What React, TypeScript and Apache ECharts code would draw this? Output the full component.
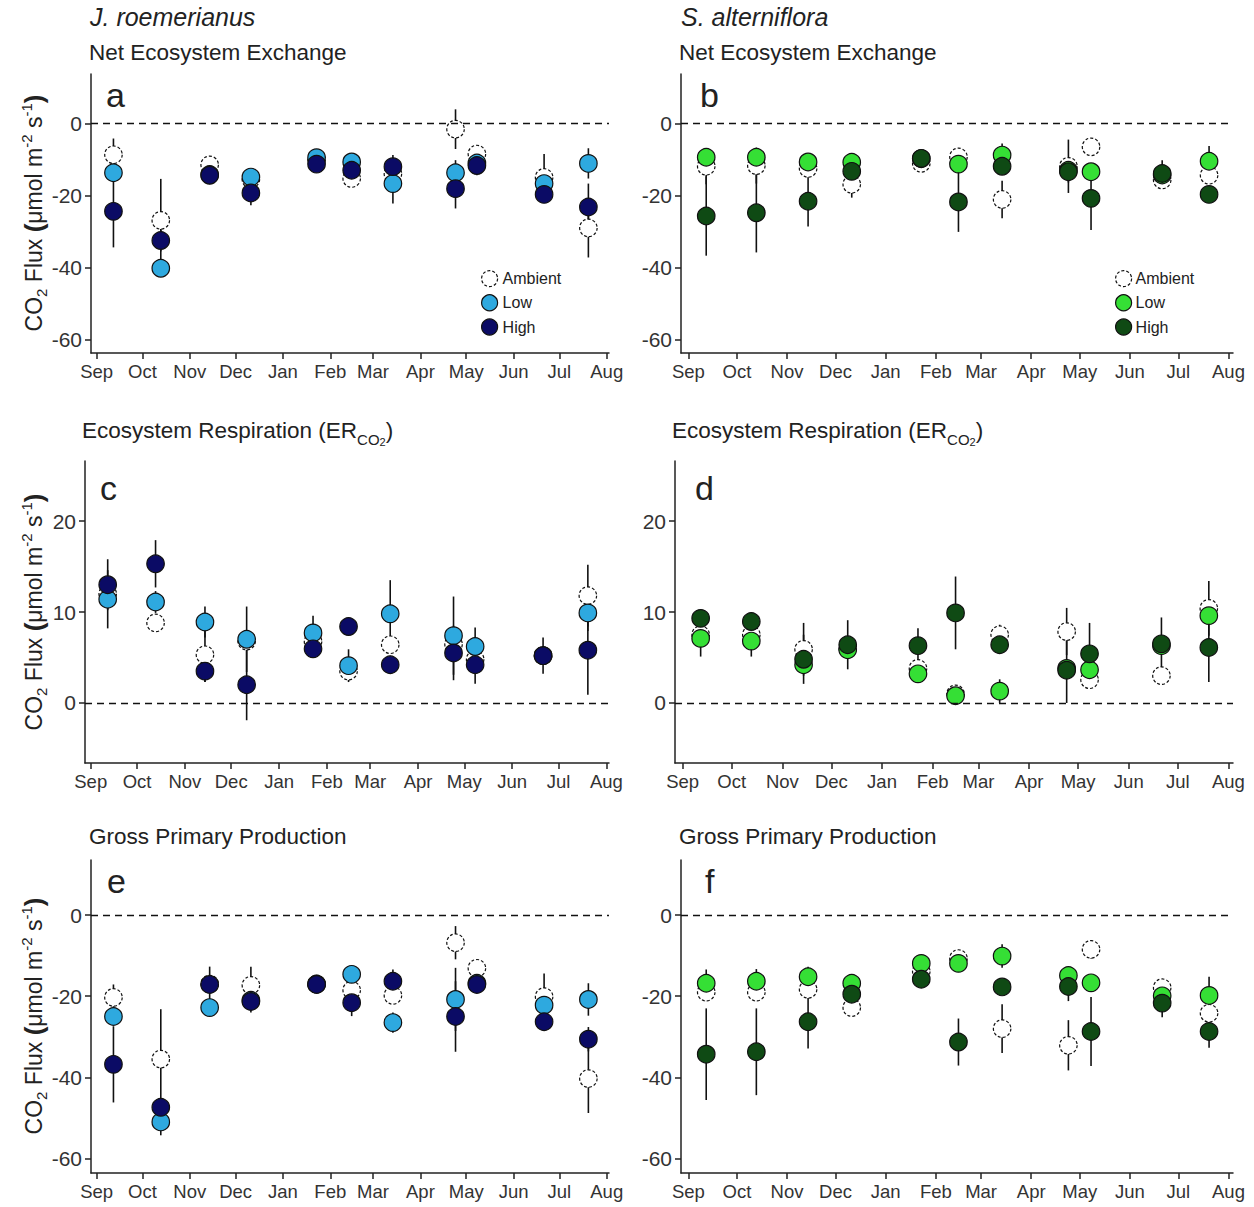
import React, { useEffect, useRef } from "react";
import * as echarts from "echarts";

// ---------- data ----------
const sampleDates = [
  "2013-09-12", "2013-10-13", "2013-11-14", "2013-12-11", "2014-01-23", "2014-02-15",
  "2014-03-14", "2014-04-24", "2014-05-08", "2014-06-21", "2014-07-20",
];
const monthStarts = [
  "2013-09-01", "2013-10-01", "2013-11-01", "2013-12-01", "2014-01-01", "2014-02-01",
  "2014-03-01", "2014-04-01", "2014-05-01", "2014-06-01", "2014-07-01", "2014-08-01",
];
const monthLabels = ["Sep", "Oct", "Nov", "Dec", "Jan", "Feb", "Mar", "Apr", "May", "Jun", "Jul", "Aug"];
const fluxTicks = [-60, -40, -20, 0];
const erTicks = [0, 10, 20];
const treatments = ["Ambient", "Low", "High"];

// (a) NEE, J. roemerianus
const aAmb = [-8.7, -26.9, -11.5, -15.5, -10.0, -15.3, -14.0, -1.6, -8.5, -15.0, -29.0];
const aAmbSE = [4.5, 11.5, 1.5, 1.5, 1.0, 1.5, 1.0, 5.5, 1.0, 6.5, 8.2];
const aLow = [-13.7, -40.2, -14.2, -14.9, -9.5, -10.7, -16.7, -13.7, -11.0, -16.7, -11.1];
const aLowSE = [1.5, 1.5, 2.0, 1.5, 1.0, 1.0, 5.5, 3.5, 1.0, 1.5, 4.2];
const aHigh = [-24.4, -32.5, -14.4, -19.3, -11.3, -13.0, -12.0, -18.1, -11.7, -19.7, -23.2];
const aHighSE = [10.0, 3.0, 2.5, 3.4, 1.0, 1.5, 3.2, 5.5, 2.7, 2.0, 6.5];

// (b) NEE, S. alterniflora
const bAmb = [-11.9, -11.7, -12.5, -16.9, -11.1, -9.3, -21.1, -11.9, -6.5, -15.7, -14.4];
const bAmbSE = [5.0, 5.0, 2.0, 3.7, 1.0, 1.0, 5.2, 7.4, 2.1, 1.5, 2.0];
const bLow = [-9.4, -9.4, -10.7, -10.8, -9.8, -11.3, -8.8, -13.0, -13.4, -14.3, -10.5];
const bLowSE = [1.5, 1.5, 2.0, 1.5, 1.0, 1.5, 3.2, 1.5, 2.0, 1.5, 4.2];
const bHigh = [-25.7, -24.8, -21.6, -13.3, -9.7, -21.8, -11.9, -13.4, -20.8, -13.9, -19.7];
const bHighSE = [11.0, 11.0, 7.0, 2.0, 1.5, 8.3, 2.0, 3.0, 8.8, 3.7, 1.5];

// (c) ER, J. roemerianus
const cAmb = [12.0, 8.8, 5.3, 6.8, 6.75, 3.5, 6.4, 6.45, 4.8, 5.2, 11.8];
const cAmbSE = [1.0, 0.7, 3.0, 1.0, 1.0, 1.0, 0.9, 1.0, 1.0, 1.0, 3.4];
const cLow = [11.4, 11.1, 8.9, 7.0, 7.7, 4.1, 9.8, 7.4, 6.2, 5.2, 9.9];
const cLowSE = [3.2, 1.2, 1.7, 3.6, 1.9, 1.8, 3.7, 4.3, 2.1, 1.0, 2.0];
const cHigh = [13.0, 15.3, 3.5, 2.0, 5.95, 8.4, 4.2, 5.5, 4.2, 5.2, 5.8];
const cHighSE = [2.8, 2.6, 1.2, 3.9, 1.0, 1.0, 1.0, 3.0, 2.1, 2.0, 4.9];

// (d) ER, S. alterniflora
const dAmb = [7.5, 7.5, 5.9, 6.0, 3.8, 1.0, 7.5, 7.85, 2.55, 3.0, 10.4];
const dAmbSE = [1.0, 0.8, 2.9, 1.0, 0.6, 0.5, 1.1, 2.6, 0.9, 0.8, 3.0];
const dLow = [7.1, 6.8, 4.2, 5.85, 3.2, 0.8, 1.3, 3.8, 3.65, 6.3, 9.6];
const dLowSE = [2.0, 1.7, 1.0, 1.0, 0.8, 0.8, 1.3, 1.0, 1.0, 1.0, 1.0];
const dHigh = [9.3, 8.95, 4.8, 6.4, 6.3, 9.9, 6.4, 3.6, 5.4, 6.5, 6.1];
const dHighSE = [1.0, 1.0, 2.7, 2.7, 1.9, 4.0, 1.0, 3.6, 3.4, 2.9, 3.8];

// (e) GPP, J. roemerianus
const eAmb = [-20.3, -35.5, -17.0, -17.3, -17.0, -18.5, -19.8, -6.8, -13.1, -20.1, -40.3];
const eAmbSE = [3.2, 12.3, 1.0, 4.6, 1.0, 1.0, 0.5, 4.1, 1.8, 5.7, 8.5];
const eLow = [-25.0, -51.0, -22.8, -21.0, -17.0, -14.6, -26.5, -20.8, -16.8, -22.2, -20.8];
const eLowSE = [2.0, 3.3, 1.0, 1.0, 1.0, 2.0, 2.5, 7.8, 1.0, 1.5, 4.0];
const eHigh = [-36.8, -47.4, -17.1, -21.3, -17.1, -21.6, -16.3, -25.0, -17.1, -26.3, -30.6];
const eHighSE = [9.4, 2.0, 4.4, 2.7, 1.0, 3.3, 2.9, 8.7, 1.5, 1.5, 3.0];

// (f) GPP, S. alterniflora
const fAmb = [-19.0, -19.0, -18.3, -22.8, -13.9, -10.7, -28.0, -32.1, -8.45, -17.9, -24.2];
const fAmbSE = [2.2, 2.2, 2.0, 1.7, 1.0, 1.0, 6.0, 6.2, 2.3, 1.5, 2.0];
const fLow = [-16.8, -16.3, -15.2, -16.8, -11.9, -11.9, -10.1, -14.9, -16.7, -19.9, -19.8];
const fLowSE = [3.4, 3.0, 2.5, 1.5, 1.0, 1.0, 2.9, 1.5, 1.5, 1.5, 4.6];
const fHigh = [-34.3, -33.7, -26.3, -19.5, -15.8, -31.3, -17.7, -17.6, -28.7, -21.7, -28.7];
const fHighSE = [11.3, 10.7, 6.6, 2.0, 1.5, 5.8, 1.5, 3.6, 8.5, 3.5, 4.0];

// ---------- styling ----------
const FONT = '"Liberation Sans", Arial, Helvetica, sans-serif';
const INK = "#222222";
const bluePal = ["#ffffff", "#2ea9df", "#0b0b65"];
const greenPal = ["#ffffff", "#35df35", "#0f4a14"];

const origin = Date.UTC(2013, 8, 1);
const toDay = (s: string) => {
  const [y, m, d] = s.split("-").map(Number);
  return Math.round((Date.UTC(y, m - 1, d) - origin) / 86400000);
};
const days = sampleDates.map(toDay);
const monthDays = monthStarts.map(toDay);

type Panel = {
  grid: { left: number; top: number; width: number; height: number };
  x: [number, number];
  y: [number, number];
  ticks: number[];
  vals: number[][];
  ses: number[][];
  pal: string[];
};

const panels: Panel[] = [
  { grid: { left: 91, top: 74, width: 518, height: 279 }, x: [-3.7, 335.5], y: [-63.7, 13.7], ticks: fluxTicks, vals: [aAmb, aLow, aHigh], ses: [aAmbSE, aLowSE, aHighSE], pal: bluePal },
  { grid: { left: 681, top: 74, width: 552, height: 279 }, x: [-4.6, 336.8], y: [-63.7, 13.7], ticks: fluxTicks, vals: [bAmb, bLow, bHigh], ses: [bAmbSE, bLowSE, bHighSE], pal: greenPal },
  { grid: { left: 85, top: 461, width: 524, height: 302 }, x: [-3.7, 335.7], y: [-6.6, 26.6], ticks: erTicks, vals: [cAmb, cLow, cHigh], ses: [cAmbSE, cLowSE, cHighSE], pal: bluePal },
  { grid: { left: 675, top: 461, width: 558, height: 302 }, x: [-4.7, 336.8], y: [-6.6, 26.6], ticks: erTicks, vals: [dAmb, dLow, dHigh], ses: [dAmbSE, dLowSE, dHighSE], pal: greenPal },
  { grid: { left: 91, top: 860, width: 518, height: 313 }, x: [-3.7, 335.5], y: [-63.6, 13.6], ticks: fluxTicks, vals: [eAmb, eLow, eHigh], ses: [eAmbSE, eLowSE, eHighSE], pal: bluePal },
  { grid: { left: 681, top: 860, width: 552, height: 313 }, x: [-4.6, 336.8], y: [-63.6, 13.6], ticks: fluxTicks, vals: [fAmb, fLow, fHigh], ses: [fAmbSE, fLowSE, fHighSE], pal: greenPal },
];

const markerStyle = (fill: string, dashed: boolean) => ({
  color: fill,
  borderColor: "#111",
  borderWidth: 1.2,
  borderType: dashed ? [3, 2] : "solid",
  opacity: 1,
});

function buildOption() {
  const grid: any[] = [];
  const xAxis: any[] = [];
  const yAxis: any[] = [];
  const series: any[] = [];

  panels.forEach((p, i) => {
    grid.push({ ...p.grid, containLabel: false });
    xAxis.push({
      type: "value",
      gridIndex: i,
      min: p.x[0],
      max: p.x[1],
      axisLine: { show: true, onZero: false, lineStyle: { color: INK, width: 1.5 } },
      axisTick: { show: true, customValues: monthDays, length: 6, lineStyle: { color: INK, width: 1.5 } },
      axisLabel: {
        customValues: monthDays,
        formatter: (v: number) => monthLabels[monthDays.indexOf(Math.round(v))] ?? "",
        fontSize: 18.5,
        color: "#333",
        fontFamily: FONT,
        margin: 9,
      },
      splitLine: { show: false },
    });
    yAxis.push({
      type: "value",
      gridIndex: i,
      min: p.y[0],
      max: p.y[1],
      axisLine: { show: true, onZero: false, lineStyle: { color: INK, width: 1.5 } },
      axisTick: { show: true, customValues: p.ticks, length: 6, lineStyle: { color: INK, width: 1.5 } },
      axisLabel: {
        customValues: p.ticks,
        formatter: (v: number) => String(Math.round(v)),
        fontSize: 21,
        color: "#333",
        fontFamily: FONT,
        margin: 9,
      },
      splitLine: { show: false },
    });

    treatments.forEach((name, t) => {
      series.push({
        type: "scatter",
        name,
        xAxisIndex: i,
        yAxisIndex: i,
        symbol: "circle",
        symbolSize: 17.5,
        silent: true,
        data: p.vals[t].map((v, k) => [days[k], v]),
        itemStyle: markerStyle(p.pal[t], t === 0),
        emphasis: { disabled: true },
        markLine:
          t === 0
            ? {
                silent: true,
                symbol: ["none", "none"],
                label: { show: false },
                lineStyle: { color: "#111", type: [7, 5], width: 1.3 },
                emphasis: { disabled: true },
                data: [{ yAxis: 0 }],
              }
            : undefined,
      });
    });

    const errData: number[][] = [];
    p.vals.forEach((arr, t) =>
      arr.forEach((v, k) => errData.push([days[k], v - p.ses[t][k], v + p.ses[t][k]]))
    );
    series.push({
      type: "custom",
      name: "SE",
      xAxisIndex: i,
      yAxisIndex: i,
      silent: true,
      data: errData,
      encode: { x: 0, y: [1, 2] },
      renderItem: (_params: any, api: any) => {
        const x = api.value(0);
        const a = api.coord([x, api.value(1)]);
        const b = api.coord([x, api.value(2)]);
        return {
          type: "line",
          shape: { x1: a[0], y1: a[1], x2: b[0], y2: b[1] },
          style: { stroke: "#111", lineWidth: 1.6 },
        };
      },
    });
  });

  const legendFor = (left: number, pal: string[], gap: number) => ({
    left,
    top: 270,
    padding: 0,
    orient: "vertical",
    icon: "circle",
    itemWidth: 16,
    itemHeight: 16,
    itemGap: 7,
    selectedMode: false,
    textStyle: { fontSize: 16, color: INK, fontFamily: FONT, padding: [0, 0, 0, gap - 5] },
    data: treatments.map((name, t) => ({ name, itemStyle: markerStyle(pal[t], t === 0) })),
  });

  const txt = (x: number, y: number, text: string, size: number, extra: any = {}) => ({
    type: "text",
    x,
    y,
    silent: true,
    style: {
      text,
      fill: INK,
      fontSize: size,
      fontFamily: FONT,
      align: "left",
      verticalAlign: "middle",
      ...extra,
    },
  });

  const erText = (x: number) => ({
    type: "text",
    x,
    y: 430,
    silent: true,
    style: {
      text: "{n|Ecosystem Respiration (ER}{s|CO}{ss|2}{n|)}",
      align: "left",
      verticalAlign: "middle",
      fill: INK,
      rich: {
        n: { fontSize: 22.5, fontFamily: FONT, fill: INK, lineHeight: 34, verticalAlign: "middle" },
        s: { fontSize: 15, fontFamily: FONT, fill: INK, lineHeight: 15, verticalAlign: "bottom" },
        ss: { fontSize: 11, fontFamily: FONT, fill: INK, lineHeight: 6, verticalAlign: "bottom" },
      },
    },
  });

  const yTitle = (cy: number) => ({
    type: "text",
    x: 34,
    y: cy,
    rotation: Math.PI / 2,
    silent: true,
    style: {
      text: "{n|CO}{s|2}{n| Flux }{p|(}{n|\u03bcmol m}{u|-2}{n| s}{u|-1}{p|)}",
      align: "center",
      verticalAlign: "middle",
      fill: INK,
      rich: {
        n: { fontSize: 23, fontFamily: FONT, fill: INK, lineHeight: 30, verticalAlign: "middle" },
        s: { fontSize: 15, fontFamily: FONT, fill: INK, lineHeight: 20, verticalAlign: "bottom" },
        u: { fontSize: 15, fontFamily: FONT, fill: INK, lineHeight: 10, verticalAlign: "top" },
        p: { fontSize: 26, fontFamily: FONT, fontWeight: "bold", fill: INK, lineHeight: 30, verticalAlign: "middle" },
      },
    },
  });

  const graphic = [
    txt(90, 17, "J. roemerianus", 25, { fontStyle: "italic" }),
    txt(681, 17, "S. alterniflora", 25, { fontStyle: "italic" }),
    txt(89, 52, "Net Ecosystem Exchange", 22.5),
    txt(679, 52, "Net Ecosystem Exchange", 22.5),
    erText(82),
    erText(672),
    txt(89, 836, "Gross Primary Production", 22.5),
    txt(679, 836, "Gross Primary Production", 22.5),
    txt(106, 95, "a", 34),
    txt(700, 95, "b", 34),
    txt(100, 488, "c", 34),
    txt(695, 488, "d", 34),
    txt(107, 881, "e", 34),
    txt(705, 881, "f", 34),
    yTitle(213),
    yTitle(612),
    yTitle(1016),
  ];

  return {
    animation: false,
    backgroundColor: "#ffffff",
    grid,
    xAxis,
    yAxis,
    series,
    legend: [legendFor(481, bluePal, 5), legendFor(1115, greenPal, 4)],
    graphic,
  };
}

export default function App() {
  const ref = useRef<HTMLDivElement>(null);
  useEffect(() => {
    if (!ref.current) return;
    const chart = echarts.init(ref.current, null, { renderer: "svg" });
    chart.setOption(buildOption() as any);
    return () => chart.dispose();
  }, []);
  return (
    <div
      ref={ref}
      style={{ position: "absolute", left: 0, top: 0, width: 1254, height: 1207, background: "#fff" }}
    />
  );
}
